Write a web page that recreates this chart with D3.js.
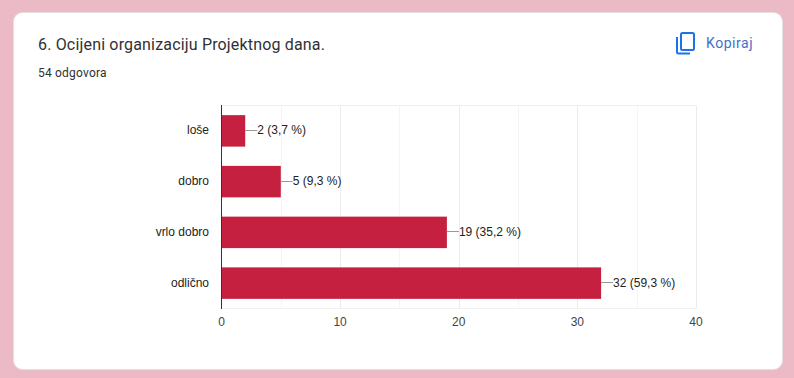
<!DOCTYPE html>
<html><head><meta charset="utf-8">
<script src="https://cdn.jsdelivr.net/npm/d3@7"></script>
<style>
html,body{margin:0;padding:0;background:#ecbac6;}
svg{display:block;}
</style></head><body><div id="c"></div>
<script>
const categories = ["loše","dobro","vrlo dobro","odlično"];
const counts = [2,5,19,32];
const percents = ["3,7","9,3","35,2","59,3"];
const majorTicks = [0,10,20,30,40];
const minorTicks = [5,15,25,35];
const titleText = "6. Ocijeni organizaciju Projektnog dana.";
const subtitleText = "54 odgovora";
const copyText = "Kopiraj";

const svg = d3.select("#c").append("svg").attr("width",794).attr("height",378);
svg.append("rect").attr("x",13.5).attr("y",12.5).attr("width",769).attr("height",357).attr("rx",9)
  .attr("fill","#fff").attr("stroke","#e6dfe1");
svg.append("text").attr("x",38).attr("y",50).text(titleText)
  .attr("font-family","Roboto").attr("font-size",16).attr("letter-spacing",0.17).attr("fill","#303134");
svg.append("text").attr("x",38).attr("y",77).text(subtitleText)
  .attr("font-family","Roboto").attr("font-size",12).attr("letter-spacing",0.2).attr("fill","#303134");

// copy icon
const ic = svg.append("g").attr("transform","translate(673,29)").attr("fill","none").attr("stroke","#1a73e8").attr("stroke-width",2);
ic.append("rect").attr("x",8).attr("y",4).attr("width",13).attr("height",17).attr("rx",1.5);
ic.append("path").attr("d","M4 8V23a1.5 1.5 0 0 0 1.5 1.5H17");
svg.append("text").attr("x",706).attr("y",48).text(copyText)
  .attr("font-family","Roboto").attr("font-weight",400).attr("font-size",14).attr("letter-spacing",0.55).attr("fill","#3d72c9");

const x = d3.scaleLinear().domain([0,40]).range([221.5,696]);
const y = d3.scaleBand().domain(categories).range([105.5,308.5]).paddingInner(0.38).paddingOuter(0.19);

const g = svg.append("g");
g.selectAll("line.minor").data(minorTicks).join("line").attr("class","minor")
  .attr("x1",d=>Math.round(x(d))+.5).attr("x2",d=>Math.round(x(d))+.5).attr("y1",105).attr("y2",308).attr("stroke","#f5f5f5");
g.selectAll("line.major").data(majorTicks.slice(1)).join("line").attr("class","major")
  .attr("x1",d=>Math.round(x(d))+.5).attr("x2",d=>Math.round(x(d))+.5).attr("y1",105).attr("y2",308).attr("stroke","#ebebeb");
g.append("line").attr("x1",221).attr("x2",697).attr("y1",105.5).attr("y2",105.5).attr("stroke","#f0f0f0");
g.append("line").attr("x1",221).attr("x2",697).attr("y1",308.5).attr("y2",308.5).attr("stroke","#f0f0f0");

g.selectAll("rect.bar").data(counts).join("rect").attr("class","bar")
  .attr("x",x(0)).attr("y",(d,i)=>y(categories[i])).attr("width",d=>x(d)-x(0)).attr("height",y.bandwidth()).attr("fill","#c5203f");

g.append("line").attr("x1",221.5).attr("x2",221.5).attr("y1",105).attr("y2",309).attr("stroke","#333");

// leader lines & labels
g.selectAll("line.lead").data(counts).join("line").attr("class","lead")
  .attr("x1",d=>x(d)).attr("x2",d=>x(d)+12)
  .attr("y1",(d,i)=>Math.round(y(categories[i])+y.bandwidth()/2)-.5).attr("y2",(d,i)=>Math.round(y(categories[i])+y.bandwidth()/2)-.5)
  .attr("stroke","#999");
g.selectAll("text.val").data(counts).join("text").attr("class","val")
  .attr("x",d=>x(d)+12).attr("y",(d,i)=>y(categories[i])+y.bandwidth()/2+3.5)
  .text((d,i)=>`${d} (${percents[i]} %)`)
  .attr("font-family","Liberation Sans, Arial").attr("font-size",12).attr("fill","#222");
g.selectAll("text.cat").data(categories).join("text").attr("class","cat")
  .attr("x",209).attr("y",d=>y(d)+y.bandwidth()/2+3.5).attr("text-anchor","end").text(d=>d)
  .attr("font-family","Liberation Sans, Arial").attr("font-size",12).attr("fill","#222");
g.selectAll("text.tick").data(majorTicks).join("text").attr("class","tick")
  .attr("x",d=>x(d)).attr("y",326).attr("text-anchor","middle").text(d=>d)
  .attr("font-family","Liberation Sans, Arial").attr("font-size",12).attr("fill","#444");
</script></body></html>
